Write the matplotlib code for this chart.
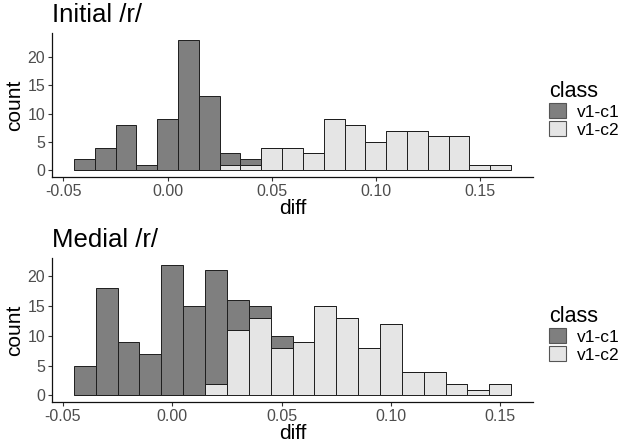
import matplotlib

matplotlib.use("Agg")
import matplotlib.pyplot as plt
import numpy as np
from matplotlib.patches import Patch

plt.rcParams["font.family"] = ["Liberation Sans", "DejaVu Sans"]

BIN_WIDTH = 0.01

# Initial /r/ : bin centres and stacked counts per class
init_centers = [round(-0.04 + 0.01 * i, 2) for i in range(21)]
init_c1 = [2, 4, 8, 1, 9, 23, 13, 2, 1, 0, 0, 0, 0, 0, 0, 0, 0, 0, 0, 0, 0]
init_c2 = [0, 0, 0, 0, 0, 0, 0, 1, 1, 4, 4, 3, 9, 8, 5, 7, 7, 6, 6, 1, 1]

# Medial /r/
med_centers = [round(-0.04 + 0.01 * i, 2) for i in range(20)]
med_c1 = [5, 18, 9, 7, 22, 15, 19, 5, 2, 2, 0, 0, 0, 0, 0, 0, 0, 0, 0, 0]
med_c2 = [0, 0, 0, 0, 0, 0, 2, 11, 13, 8, 9, 15, 13, 8, 12, 4, 4, 2, 1, 2]

classes = ["v1-c1", "v1-c2"]
x_ticks = [-0.05, 0.00, 0.05, 0.10, 0.15]
y_ticks = [0, 5, 10, 15, 20]

FILL_C1 = "#7f7f7f"
FILL_C2 = "#e5e5e5"
EDGE = "#1e1e1e"
TICK_TXT = "#4d4d4d"

W, H = 624, 445
fig = plt.figure(figsize=(W / 100, H / 100), dpi=100)


def px_axes(left, top, right, bottom):
    return fig.add_axes([left / W, 1 - bottom / H, (right - left) / W, (bottom - top) / H])


def panel(ax, centers, c1, c2, title, legend_top):
    centers = np.asarray(centers)
    c1 = np.asarray(c1)
    c2 = np.asarray(c2)
    ax.bar(centers, c2, width=BIN_WIDTH, color=FILL_C2, edgecolor=EDGE, linewidth=0.7)
    ax.bar(centers, c1, bottom=c2, width=BIN_WIDTH, color=FILL_C1,
           edgecolor=EDGE, linewidth=0.7)
    lo = centers.min() - BIN_WIDTH / 2
    hi = centers.max() + BIN_WIDTH / 2
    pad = 0.05 * (hi - lo)
    ax.set_xlim(lo - pad, hi + pad)
    top = (c1 + c2).max()
    ax.set_ylim(-0.05 * top, top * 1.05)
    ax.set_xticks(x_ticks)
    ax.set_xticklabels([f"{v:.2f}" for v in x_ticks])
    ax.set_yticks(y_ticks)
    for side in ("top", "right"):
        ax.spines[side].set_visible(False)
    for side in ("left", "bottom"):
        ax.spines[side].set_color("#111111")
        ax.spines[side].set_linewidth(0.9)
    ax.tick_params(colors="#333333", labelcolor=TICK_TXT, labelsize=11.5,
                   length=3, width=0.8, pad=2)
    ax.set_xlabel("diff", fontsize=15, labelpad=0)
    ax.set_ylabel("count", fontsize=15, labelpad=2)
    ax.set_title(title, loc="left", fontsize=18.5, pad=8)
    handles = [Patch(facecolor=FILL_C1, edgecolor="#555555", linewidth=0.8),
               Patch(facecolor=FILL_C2, edgecolor="#555555", linewidth=0.8)]
    leg = fig.legend(handles, classes, title="class", loc="upper left",
                     bbox_to_anchor=(549 / W, 1 - legend_top / H),
                     bbox_transform=fig.transFigure, frameon=False, fontsize=12.5,
                     title_fontsize=15.5, handlelength=1.0, handleheight=0.95,
                     handletextpad=0.6, labelspacing=0.08, borderaxespad=0,
                     borderpad=0)
    leg._legend_box.align = "left"


ax1 = px_axes(52, 33, 533, 177)
panel(ax1, init_centers, init_c1, init_c2, "Initial /r/", 81)

ax2 = px_axes(52, 258, 533, 402)
panel(ax2, med_centers, med_c1, med_c2, "Medial /r/", 306)

fig.savefig("out.png", dpi=100)
